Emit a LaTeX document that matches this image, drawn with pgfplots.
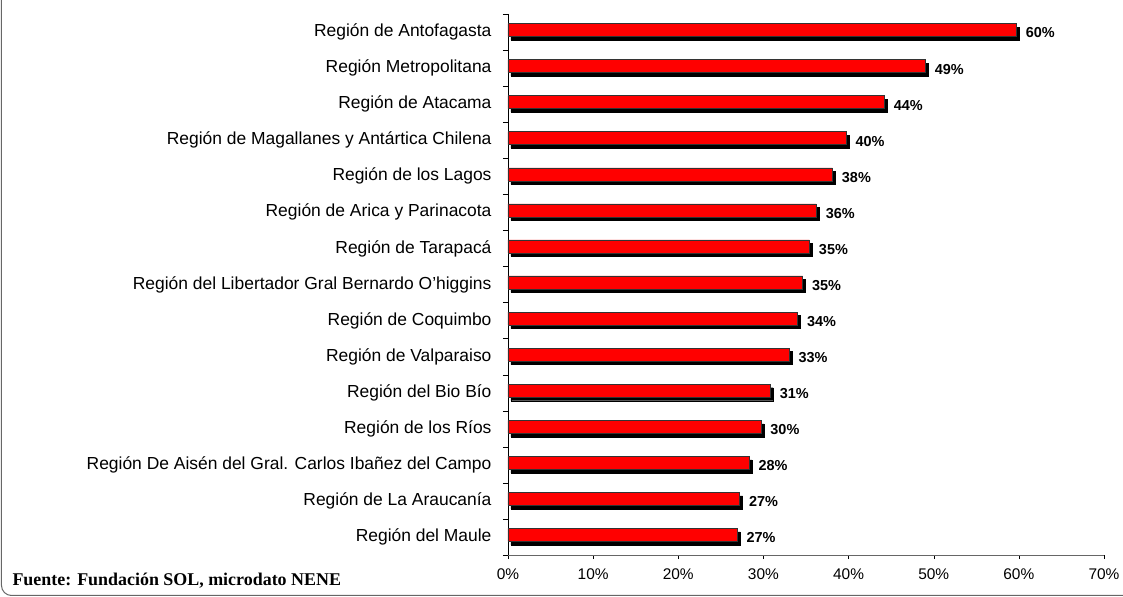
\documentclass[border=0pt]{standalone}
\usepackage{pgfplots}
\pgfplotsset{compat=1.18}
\usepackage{fontspec}
\setmainfont{Liberation Sans}
\newfontfamily\timesfont{Liberation Serif}
\definecolor{barred}{RGB}{255,0,0}

\pgfplotstableread{
idx val
0  59.7
1  49.0
2  44.2
3  39.7
4  38.1
5  36.2
6  35.4
7  34.6
8  34.0
9  33.0
10 30.8
11 29.7
12 28.3
13 27.2
14 26.9
}\regiones

\begin{document}
\begin{tikzpicture}[x=1bp,y=1bp]
    \useasboundingbox (-508,-42) rectangle (615,555);
    \begin{axis}[
        at={(0,0)}, anchor=south west,
        scale only axis,
        width=596bp, height=541bp,
        xmin=0, xmax=70,
        xtick={0,10,...,70},
        xticklabel={\pgfmathprintnumber{\tick}\%},
        ymin=-0.5, ymax=14.5,
        y dir=reverse,
        ytick={0,...,14},
        yticklabels={
            Región de Antofagasta,
            Región Metropolitana,
            Región de Atacama,
            Región de Magallanes y Antártica Chilena,
            Región de los Lagos,
            Región de Arica y Parinacota,
            Región de Tarapacá,
            Región del Libertador Gral Bernardo O'higgins,
            Región de Coquimbo,
            Región de Valparaiso,
            Región del Bio Bío,
            Región de los Ríos,
            Región De Aisén del Gral. Carlos Ibañez del Campo,
            Región de La Araucanía,
            Región del Maule},
        minor ytick={-0.5,0.5,...,14.5},
        major tick length=4bp,
        minor tick length=5bp,
        every major y tick/.style={draw=none},
        every minor tick/.style={draw=black},
        tick style={draw=black},
        tick align=outside,
        axis x line*=bottom,
        axis y line*=left,
        x axis line style={draw=black!60, -},
        y axis line style={draw=black, -},
        y tick label style={font=\fontsize{17.5}{20}\selectfont, xshift=-9bp},
        x tick label style={font=\fontsize{15.5}{18}\selectfont, yshift=-6bp},
        /pgf/number format/assume math mode=true,
        xbar, bar width=13bp, bar shift=0pt,
        clip=false,
    ]
        % shadow
        \addplot[fill=black, draw=black, xshift=3bp, yshift=-1.5bp]
            table[x=val, y=idx] {\regiones};
        % bars
        \addplot[fill=barred, draw=black!80, line width=0.5pt, yshift=2bp,
            nodes near coords={\pgfmathprintnumber[fixed,precision=0]{\pgfplotspointmeta}\%},
            nodes near coords style={font=\fontsize{14.5}{17}\selectfont\bfseries,
                anchor=west, xshift=6bp, yshift=-3bp},
            point meta=x]
            table[x=val, y=idx] {\regiones};
    \end{axis}
    \draw[black!60, line width=1pt, rounded corners=10bp]
        (-506.5,555) -- (-506.5,-40.5) -- (615,-40.5);
    \node[anchor=base west, font=\timesfont\bfseries\fontsize{18}{20}\selectfont]
        at (-499,-31) {Fuente: Fundación SOL, microdato NENE};
\end{tikzpicture}
\end{document}
